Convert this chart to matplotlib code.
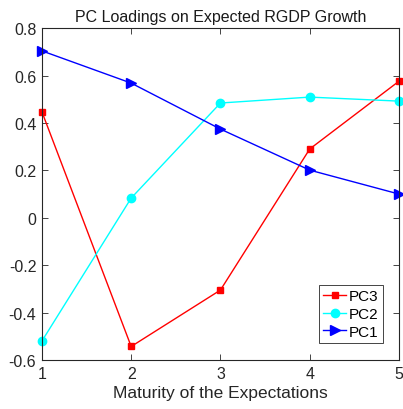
import matplotlib.pyplot as plt

plt.rcParams['font.family'] = ['Liberation Sans', 'DejaVu Sans']

maturity = [1, 2, 3, 4, 5]
pc3 = [0.447, -0.543, -0.305, 0.290, 0.576]
pc2 = [-0.520, 0.083, 0.484, 0.509, 0.492]
pc1 = [0.704, 0.568, 0.374, 0.201, 0.100]

fig = plt.figure(figsize=(4.03, 4.10), dpi=100)
ax = fig.add_axes([0.104, 0.1195, 0.886, 0.8095])

ax.plot(maturity, pc3, color='#ff0000', marker='s', markersize=5, lw=1, label='PC3', clip_on=False)
ax.plot(maturity, pc2, color='#00ffff', marker='o', markersize=6, lw=1, label='PC2', clip_on=False)
ax.plot(maturity, pc1, color='#0000ff', marker='>', markersize=7, lw=1, label='PC1', clip_on=False)

ax.set_xlim(1, 5)
ax.set_ylim(-0.6, 0.8)
ax.set_xticks(maturity)
ax.set_yticks([-0.6, -0.4, -0.2, 0, 0.2, 0.4, 0.6, 0.8])
ax.set_yticklabels(['-0.6', '-0.4', '-0.2', '0', '0.2', '0.4', '0.6', '0.8'])
ax.tick_params(direction='in', top=True, right=True, length=4, width=0.6,
               colors='#262626', labelsize=11.5, pad=4)
for s in ax.spines.values():
    s.set_color('#262626')
    s.set_linewidth(0.8)

ax.set_title('PC Loadings on Expected RGDP Growth', fontsize=11.5, color='#1a1a1a', pad=5)
ax.set_xlabel('Maturity of the Expectations', fontsize=12.5, color='#262626', labelpad=3)

leg = ax.legend(loc='lower right', bbox_to_anchor=(0.955, 0.05), fontsize=11,
                fancybox=False, framealpha=1, edgecolor='#262626',
                handlelength=1.5, handletextpad=0.15, borderpad=0.3,
                labelspacing=0.25, borderaxespad=0)
leg.get_frame().set_linewidth(0.6)

plt.savefig('out.png', dpi=100)
